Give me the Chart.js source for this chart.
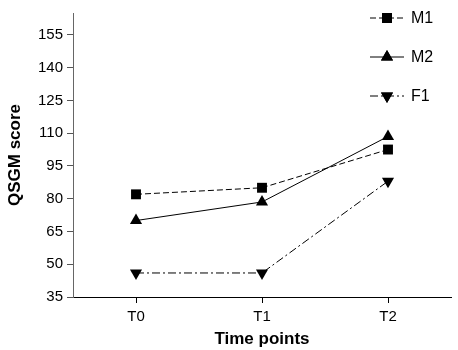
<!DOCTYPE html>
<html><head><meta charset="utf-8">
<script src="https://cdn.jsdelivr.net/npm/chart.js@4/dist/chart.umd.min.js"></script>
<style>html,body{margin:0;padding:0;background:#fff}#wrap{width:458px;height:350px}</style>
</head><body><div id="wrap"><canvas id="c" width="458" height="350"></canvas></div>
<script>
const categories = ['T0', 'T1', 'T2'];
const seriesNames = ['M1', 'M2', 'F1'];
const m1Values = [82, 85, 102.5];
const m2Values = [70, 78.5, 108.5];
const f1Values = [46, 46, 88];
const yTickValues = [35, 50, 65, 80, 95, 110, 125, 140, 155];

const styles = [
  {dash: [6, 3], point: 'rect', rot: 0, radius: 7},
  {dash: [], point: 'triangle', rot: 0, radius: 7},
  {dash: [8, 3, 2, 3], point: 'triangle', rot: 180, radius: 7}
];
const values = [m1Values, m2Values, f1Values];
const FONT = '"Liberation Sans", Arial, sans-serif';

const datasets = seriesNames.map((n, i) => ({
  label: n, data: values[i],
  borderColor: '#000', backgroundColor: '#000', borderWidth: 1,
  borderDash: styles[i].dash, pointStyle: styles[i].point, pointRotation: styles[i].rot,
  pointRadius: styles[i].radius, pointHoverRadius: styles[i].radius,
  pointBackgroundColor: '#000', pointBorderColor: '#000', pointBorderWidth: 0, tension: 0
}));

const legendPlugin = {
  id: 'customLegend',
  afterDraw(chart) {
    const ctx = chart.ctx;
    const rows = [18, 57, 96];
    chart.data.datasets.forEach((ds, i) => {
      const y = rows[i];
      ctx.save();
      ctx.strokeStyle = '#000'; ctx.lineWidth = 1; ctx.setLineDash(ds.borderDash);
      ctx.beginPath(); ctx.moveTo(370, y); ctx.lineTo(404, y); ctx.stroke();
      ctx.setLineDash([]);
      ctx.fillStyle = '#000';
      Chart.helpers.drawPoint(ctx, {pointStyle: ds.pointStyle, rotation: ds.pointRotation, radius: ds.pointRadius, borderWidth: 0}, 387, y);
      ctx.fill();
      ctx.font = '16px ' + FONT;
      ctx.textBaseline = 'middle'; ctx.textAlign = 'left';
      ctx.fillText(ds.label, 411, y + 1);
      ctx.restore();
    });
  }
};

new Chart(document.getElementById('c'), {
  type: 'line',
  data: {labels: categories, datasets},
  options: {
    responsive: false, animation: false, devicePixelRatio: 1,
    layout: {padding: {top: 4, right: 0, left: 0, bottom: 0}},
    plugins: {legend: {display: false}, tooltip: {enabled: false}},
    scales: {
      x: {
        offset: true,
        grid: {display: true, drawOnChartArea: false, drawTicks: true, tickLength: 6, color: '#000', offset: false},
        border: {display: true, color: '#000', width: 1},
        ticks: {color: '#000', font: {size: 15, family: FONT}, padding: 5},
        title: {display: true, text: 'Time points', color: '#000', font: {size: 17, weight: 'bold', family: FONT}, padding: {top: 4, bottom: 0}},
        afterFit(s) { s.height = 53; }
      },
      y: {
        min: 35, max: 165,
        grid: {display: true, drawOnChartArea: false, drawTicks: true, tickLength: 6, color: '#555'},
        border: {display: true, color: '#666', width: 1},
        afterBuildTicks(s) { s.ticks = yTickValues.map(v => ({value: v})); },
        ticks: {color: '#000', font: {size: 15, family: FONT}, padding: 4},
        title: {display: true, text: 'QSGM score', color: '#000', font: {size: 17, weight: 'bold', family: FONT}, padding: {top: 5, bottom: 4}},
        afterFit(s) { s.width = 73; }
      }
    }
  },
  plugins: [legendPlugin]
});
</script></body></html>
